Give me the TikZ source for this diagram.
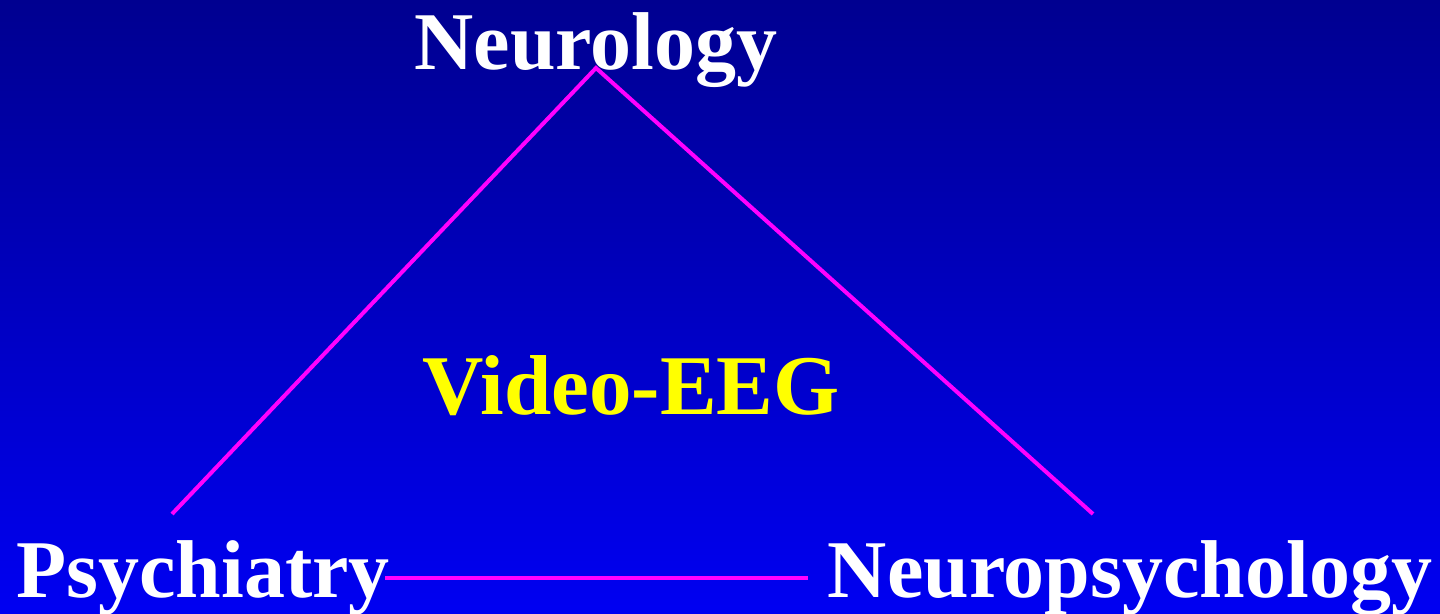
\documentclass[tikz,border=0pt]{standalone}
\usepackage{fontspec}
\setmainfont{Liberation Serif}
\usepackage{tikz}
\usetikzlibrary{positioning,calc}
\definecolor{skytop}{HTML}{000090}
\definecolor{skybot}{HTML}{0000F2}
\definecolor{link}{HTML}{FF00FF}
\definecolor{hilite}{HTML}{FFFF00}

\begin{document}
\begin{tikzpicture}[x=0.5pt,y=-0.5pt,
  field/.style={font=\bfseries\fontsize{41}{49}\selectfont,text=white,inner sep=0pt,anchor=base},
  core/.style={font=\bfseries\fontsize{42.5}{51}\selectfont,text=hilite,inner sep=0pt,anchor=base},
  tie/.style={link,line width=2pt}]
% background
\shade[top color=skytop,bottom color=skybot] (0,0) rectangle (1440,614);
\useasboundingbox (0,0) rectangle (1440,614);
% disciplines
\node[field] (neuro) at (596,70) {Neurology};
\node[field] (psych) at (203,597) {Psychiatry};
\node[field] (npsy) at (1130,597) {Neuropsychology};
\node[core] (veeg) at (631,415) {Video-EEG};
% triangle
\coordinate (apex) at (596,68);
\coordinate (lfoot) at (172,514);
\coordinate (rfoot) at (1093,514);
\coordinate (lbase) at (385,578);
\coordinate (rbase) at (808,578);
\draw[tie] (lfoot) -- (apex) -- (rfoot);
\draw[tie] (lbase) -- (rbase);
\end{tikzpicture}
\end{document}
